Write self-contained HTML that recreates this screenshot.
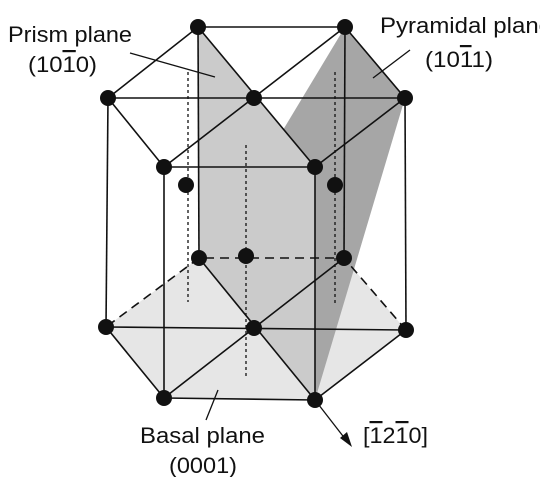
<!DOCTYPE html>
<html><head><meta charset="utf-8"><style>
html,body{margin:0;padding:0;background:#fff;}
svg{display:block;}
text{font-family:"Liberation Sans",Arial,sans-serif;font-size:22px;fill:#111;}
.ol{text-decoration:overline;}
</style></head><body>
<svg width="540" height="477" viewBox="0 0 540 477">
<polygon points="199,258 344,258 406,330 315,400 164,398 106,327" fill="#e6e6e6"/>
<polygon points="345,27 405,98 315,400 283,130" fill="#a6a6a6"/>
<polygon points="198,27 315,167 315,400 199,258" fill="#cbcbcb"/>
<g stroke="#111" stroke-width="1.6" fill="none">
<polygon points="198,27 345,27 405,98 315,167 164,167 108,98"/>
<line x1="108" y1="98" x2="405" y2="98"/>
<line x1="198" y1="27" x2="315" y2="167"/>
<line x1="345" y1="27" x2="164" y2="167"/>
<line x1="108" y1="98" x2="106" y2="327"/>
<line x1="164" y1="167" x2="164" y2="398"/>
<line x1="315" y1="167" x2="315" y2="400"/>
<line x1="405" y1="98" x2="406" y2="330"/>
<line x1="198" y1="27" x2="199" y2="258"/>
<line x1="345" y1="27" x2="344" y2="258"/>
<polyline points="406,330 315,400 164,398 106,327"/>
<line x1="106" y1="327" x2="406" y2="330"/>
<line x1="199" y1="258" x2="315" y2="400"/>
<line x1="344" y1="258" x2="164" y2="398"/>
</g>
<g stroke="#111" stroke-width="1.6" stroke-dasharray="9,6" fill="none">
<polyline points="406,330 344,258 199,258 106,327"/>
</g>
<g stroke="#111" stroke-width="1.3" stroke-dasharray="3,3" fill="none">
<line x1="188" y1="72" x2="188" y2="302"/>
<line x1="335" y1="72" x2="335" y2="305"/>
<line x1="246" y1="145" x2="246" y2="376"/>
</g>
<g fill="#111">
<circle cx="198" cy="27" r="8"/><circle cx="345" cy="27" r="8"/><circle cx="405" cy="98" r="8"/>
<circle cx="315" cy="167" r="8"/><circle cx="164" cy="167" r="8"/><circle cx="108" cy="98" r="8"/>
<circle cx="254" cy="98" r="8"/>
<circle cx="199" cy="258" r="8"/><circle cx="344" cy="258" r="8"/><circle cx="406" cy="330" r="8"/>
<circle cx="315" cy="400" r="8"/><circle cx="164" cy="398" r="8"/><circle cx="106" cy="327" r="8"/>
<circle cx="254" cy="328" r="8"/>
<circle cx="186" cy="185" r="8"/><circle cx="335" cy="185" r="8"/><circle cx="246" cy="256" r="8"/>
</g>
<g stroke="#111" stroke-width="1.3">
<line x1="130" y1="53" x2="215" y2="77"/>
<line x1="410" y1="50" x2="373" y2="78"/>
<line x1="218" y1="390" x2="206" y2="420"/>
<line x1="315" y1="400" x2="346" y2="440"/>
</g>
<polygon points="352,447 340,438 347,432" fill="#111"/>
<text x="8" y="42" textLength="124" lengthAdjust="spacingAndGlyphs">Prism plane</text>
<text x="28" y="72" textLength="69" lengthAdjust="spacingAndGlyphs">(10<tspan class="ol">1</tspan>0)</text>
<text x="380" y="33" textLength="172" lengthAdjust="spacingAndGlyphs">Pyramidal plane</text>
<text x="425" y="67" textLength="68" lengthAdjust="spacingAndGlyphs">(10<tspan class="ol">1</tspan>1)</text>
<text x="140" y="443" textLength="125" lengthAdjust="spacingAndGlyphs">Basal plane</text>
<text x="169" y="473" textLength="68" lengthAdjust="spacingAndGlyphs">(0001)</text>
<text x="363" y="443" textLength="65" lengthAdjust="spacingAndGlyphs">[<tspan class="ol">1</tspan>2<tspan class="ol">1</tspan>0]</text>
</svg>
</body></html>
